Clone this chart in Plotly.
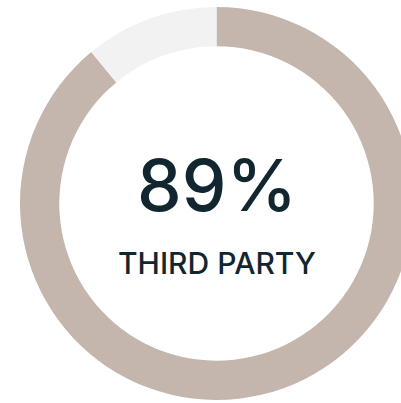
import plotly.graph_objects as go

labels = ["Third party", "Other"]
values = [89, 11]
colors = ["#C4B6AD", "#F2F2F2"]
center_value = "89%"
center_label = "THIRD PARTY"

fig = go.Figure(go.Pie(
    labels=labels,
    values=values,
    hole=0.80,
    sort=False,
    direction="clockwise",
    rotation=0,
    marker=dict(colors=colors, line=dict(width=0)),
    textinfo="none",
    hoverinfo="label+percent",
    showlegend=False,
))

fig.add_annotation(text=center_value, x=0.5, y=0.5, xref="paper", yref="paper",
                   yshift=19, showarrow=False,
                   font=dict(family="Inter", size=71, color="#11262E", weight=500))
fig.add_annotation(text=center_label, x=0.5, y=0.5, xref="paper", yref="paper",
                   yshift=-59, showarrow=False,
                   font=dict(family="Inter", size=30, color="#11262E", weight=500))

fig.update_layout(
    width=415, height=403,
    margin=dict(l=20, r=2, t=7, b=3),
    paper_bgcolor="white",
    plot_bgcolor="white",
)

fig.write_html("out.html",
               config={"displayModeBar": False},
               post_script="document.body.style.margin='0';document.body.style.overflow='hidden';")
